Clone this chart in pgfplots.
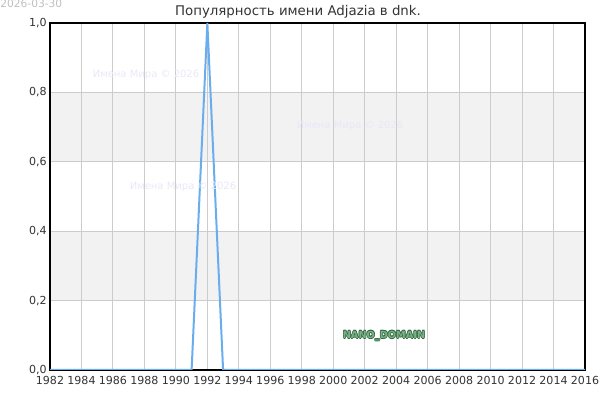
\documentclass[border=0pt]{standalone}
\usepackage{fontspec}
\setmainfont{DejaVu Sans}
\usepackage{pgfplots}
\pgfplotsset{compat=1.18}
\definecolor{linec}{HTML}{6AADEE}
\definecolor{txt}{HTML}{333333}
\definecolor{band}{HTML}{F2F2F2}
\definecolor{gridc}{HTML}{CCCCCC}
\definecolor{wm}{HTML}{E8E8F8}
\definecolor{nano}{HTML}{2F6B40}
\definecolor{nanoin}{HTML}{7FB08A}
\begin{document}
\begin{tikzpicture}
\begin{axis}[
  set layers,
  at={(37.5pt,22.5pt)}, anchor=south west,
  scale only axis, width=401.25pt, height=260.25pt,
  xmin=1982, xmax=2016, ymin=0, ymax=1,
  xtick={1982,1984,...,2016},
  ytick={0,0.2,0.4,0.6,0.8,1.0},
  xmajorgrids, ymajorgrids,
  grid style={gridc, line width=0.75pt},
  axis line style={black, line width=0.9pt},
  tick style={draw=none},
  ticklabel style={font=\fontsize{8.3}{10}\selectfont, text=txt},
  /pgf/number format/assume math mode=true,
  x tick label style={yshift=-1pt, /pgf/number format/1000 sep={}},
  y tick label style={xshift=1pt, /pgf/number format/.cd, use comma, fixed, fixed zerofill, precision=1},
]
\addplot[fill=band, draw=none, on layer=axis background] coordinates {(1982,0.2) (2016,0.2) (2016,0.4) (1982,0.4)} -- cycle;
\addplot[fill=band, draw=none, on layer=axis background] coordinates {(1982,0.6) (2016,0.6) (2016,0.8) (1982,0.8)} -- cycle;
\addplot[linec, line width=1.5pt, mark=none] coordinates {
(1982,0) (1983,0) (1984,0) (1985,0) (1986,0) (1987,0) (1988,0) (1989,0) (1990,0) (1991,0)
(1992,1) (1993,0) (1994,0) (1995,0) (1996,0) (1997,0) (1998,0) (1999,0) (2000,0) (2001,0)
(2002,0) (2003,0) (2004,0) (2005,0) (2006,0) (2007,0) (2008,0) (2009,0) (2010,0) (2011,0)
(2012,0) (2013,0) (2014,0) (2015,0) (2016,0)};
\end{axis}
\node[text=txt, font=\fontsize{10}{12}\selectfont] at (223.5pt,291.5pt) {Популярность имени Adjazia в dnk.};
\node[text=gray!50, font=\fontsize{8}{9}\selectfont, anchor=west, inner sep=0pt] at (0pt,297pt) {2026-03-30};
\node[text=wm, font=\fontsize{7.5}{9}\selectfont] at (109.5pt,243.75pt) {Имена Мира © 2026};
\node[text=wm, font=\fontsize{7.5}{9}\selectfont] at (262.5pt,205.5pt) {Имена Мира © 2026};
\node[text=wm, font=\fontsize{7.5}{9}\selectfont] at (137.25pt,159.75pt) {Имена Мира © 2026};
\foreach \dx/\dy in {-0.45/0,0.45/0,0/-0.45,0/0.45,-0.35/-0.35,0.35/0.35,-0.35/0.35,0.35/-0.35}{
  \node[text=nano, font=\bfseries\fontsize{7.3}{8}\selectfont] at (288pt+\dx pt,48pt+\dy pt) {NANO\_DOMAIN};
}
\node[text=nanoin, font=\bfseries\fontsize{7.3}{8}\selectfont] at (288pt,48pt) {NANO\_DOMAIN};
\pgfresetboundingbox
\useasboundingbox (0pt,0pt) rectangle (450pt,300pt);
\end{tikzpicture}
\end{document}
